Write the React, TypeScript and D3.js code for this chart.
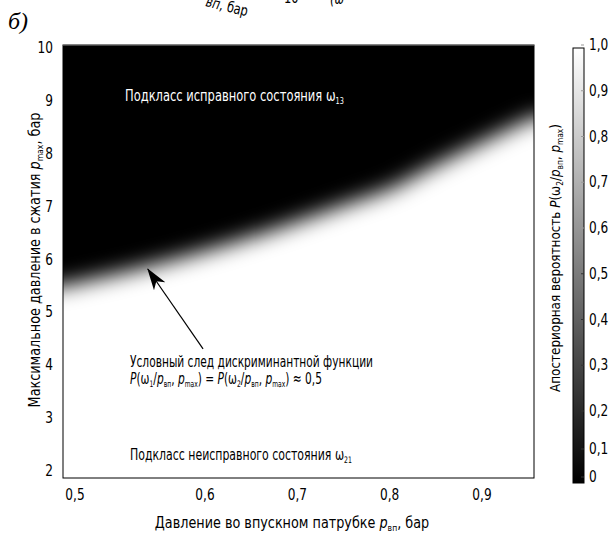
import React from 'react';
import * as d3 from 'd3';

// ---- data ----
const xTicks = [0.5, 0.6, 0.7, 0.8, 0.9];
const yTicks = [2, 3, 4, 5, 6, 7, 8, 9, 10];
const cbTicks = [0, 0.1, 0.2, 0.3, 0.4, 0.5, 0.6, 0.7, 0.8, 0.9, 1.0];
// conditional trace of the discriminant function, P = 0.5 contour
const boundaryX = [0.491, 0.558, 0.638, 0.746, 0.811, 0.843, 0.898, 0.958];
const boundaryY = [5.5, 5.88, 6.36, 7.0, 7.42, 7.72, 8.2, 8.7];
// annotation arrow (tail -> tip), data coordinates
const arrowX = [0.5985, 0.556];
const arrowY = [4.31, 5.82];

const fmt = (v: number) => (v === 0 ? '0' : v.toFixed(1).replace('.', ','));

const FONT = "'Liberation Sans Narrow', 'DejaVu Sans Condensed', 'Roboto', sans-serif";

type TProps = {
  x: number; y: number; rot?: number; sx?: number; size?: number;
  anchor?: 'start' | 'middle' | 'end'; fill?: string; children: React.ReactNode;
};
const T = ({ x, y, rot = 0, sx = 1, size = 15, anchor = 'start', fill = '#000', children }: TProps) => (
  <text transform={`translate(${x},${y}) rotate(${rot}) scale(${sx},1)`} fontSize={size} textAnchor={anchor} fill={fill}>
    {children}
  </text>
);

export default function App() {
  const W = 611, H = 540;
  const L = 63, R = 534, Tp = 45, B = 478;

  const x = d3.scaleLinear().domain([0.5, 0.6, 0.9]).range([75, 205, 482]);
  const y = d3.scaleLinear().domain([2, 10]).range([471, 48]);
  const cbTop = 48, cbBot = 483, cbL = 573, cbW = 11;
  // colour-bar axis as printed (lowest labels are set closer together)
  const cb = d3.scaleLinear().domain([0, 0.1, 0.2, 1]).range([477, 449, 411, 45]);

  const pts: [number, number][] = boundaryX.map((bx, i) => [x(bx), y(boundaryY[i])]);
  const lineStr = d3.line().curve(d3.curveMonotoneX)(pts) || '';
  const first = pts[0], last = pts[pts.length - 1];
  const darkPath = `M${L - 60},${Tp - 60} L${L - 60},${first[1]} L${first[0]},${first[1]} ${'L' + lineStr.slice(1)} L${R + 60},${last[1]} L${R + 60},${Tp - 60} Z`;

  const sub = (s: string) => (
    <tspan fontSize="9" dy="3">{s}</tspan>
  );
  const up = (s: string) => <tspan dy="-3">{s}</tspan>;
  const it = (s: string) => <tspan fontStyle="italic">{s}</tspan>;

  return (
    <svg width={W} height={H} style={{ position: 'absolute', left: 0, top: 0, background: '#fff' }} fontFamily={FONT}>
      <defs>
        <clipPath id="plotClip">
          <rect x={L} y={Tp} width={R - L} height={B - Tp} />
        </clipPath>
        <filter id="blur" filterUnits="userSpaceOnUse" x={L - 100} y={Tp - 100} width={R - L + 200} height={B - Tp + 200}>
          <feGaussianBlur stdDeviation="10.5" />
        </filter>
        <linearGradient id="cbGrad" x1="0" y1="1" x2="0" y2="0">
          <stop offset="0" stopColor="#000" />
          <stop offset="1" stopColor="#fff" />
        </linearGradient>
        <marker id="arrowHead" viewBox="0 0 22 14" refX="21" refY="7" markerWidth="22" markerHeight="14" markerUnits="userSpaceOnUse" orient="auto">
          <path d="M0,0 L22,7 L0,14 L6,7 Z" fill="#000" />
        </marker>
      </defs>

      <rect width={W} height={H} fill="#fff" />

      {/* cut-off fragments of the chart above */}
      <T x={205} y={6} rot={14} sx={0.85}>{it('вп')}, бар</T>
      <T x={284} y={3} sx={0.85}>10</T>
      <T x={330} y={4} sx={0.85}>{it('(ω')}</T>

      <text x={8} y={29} fontFamily="'Liberation Serif', 'DejaVu Serif', serif" fontStyle="italic" fontSize="24">б)</text>

      {/* heatmap */}
      <g clipPath="url(#plotClip)">
        <rect x={L} y={Tp} width={R - L} height={B - Tp} fill="#fff" />
        <path d={darkPath} fill="#000" filter="url(#blur)" />
      </g>
      <rect x={L} y={Tp} width={R - L} height={B - Tp} fill="none" stroke="#000" strokeWidth={1} />
      <line x1={L} x2={R} y1={Tp} y2={Tp} stroke="#888" strokeWidth={1} />

      {/* y ticks */}
      {yTicks.map(v => (
        <T key={v} x={53} y={y(v) + 5} anchor="end" sx={0.9}>{v}</T>
      ))}
      {/* x ticks */}
      {xTicks.map(v => (
        <T key={v} x={x(v)} y={500} anchor="middle" sx={0.9}>{fmt(v)}</T>
      ))}

      {/* axis titles */}
      <T x={292} y={528} anchor="middle" sx={0.95}>
        Давление во впускном патрубке {it('p')}{sub('вп')}{up(', бар')}
      </T>
      <T x={40} y={260} rot={-90} anchor="middle" sx={0.95}>
        Максимальное давление в сжатия {it('p')}{sub('max')}{up(', бар')}
      </T>

      {/* region labels */}
      <T x={125} y={101} sx={0.8} size={16} fill="#fff">
        Подкласс исправного состояния ω{sub('13')}
      </T>
      <T x={130} y={460} sx={0.76} size={16}>
        Подкласс неисправного состояния ω{sub('21')}
      </T>

      {/* annotation */}
      <line x1={x(arrowX[0])} y1={y(arrowY[0])} x2={x(arrowX[1])} y2={y(arrowY[1])} stroke="#000" strokeWidth={1.2} markerEnd="url(#arrowHead)" />
      <T x={130} y={367} sx={0.74} size={16}>Условный след дискриминантной функции</T>
      <T x={130} y={384} sx={0.74} size={16}>
        {it('P')}(ω{sub('1')}{up('/')}{it('p')}{sub('вп')}{up(', ')}{it('p')}{sub('max')}{up(') = ')}{it('P')}(ω{sub('2')}{up('/')}{it('p')}{sub('вп')}{up(', ')}{it('p')}{sub('max')}{up(') ≈ 0,5')}
      </T>

      {/* colorbar */}
      <rect x={cbL} y={cbTop} width={cbW} height={cbBot - cbTop} fill="url(#cbGrad)" stroke="#000" strokeWidth={1} />
      {cbTicks.map(v => (
        <g key={v}>
          <line x1={cbL + cbW - 3} x2={cbL + cbW} y1={cb(v)} y2={cb(v)} stroke={v > 0.5 ? '#999' : '#333'} strokeWidth={1} />
          <T x={589} y={cb(v) + 5} sx={0.9}>{fmt(v)}</T>
        </g>
      ))}
      <T x={560} y={258} rot={-90} anchor="middle" sx={0.92} size={14.5}>
        Апостериорная вероятность {it('P')}(ω{sub('2')}{up('/')}{it('p')}{sub('вп')}{up(', ')}{it('p')}{sub('max')}{up(')')}
      </T>
    </svg>
  );
}
